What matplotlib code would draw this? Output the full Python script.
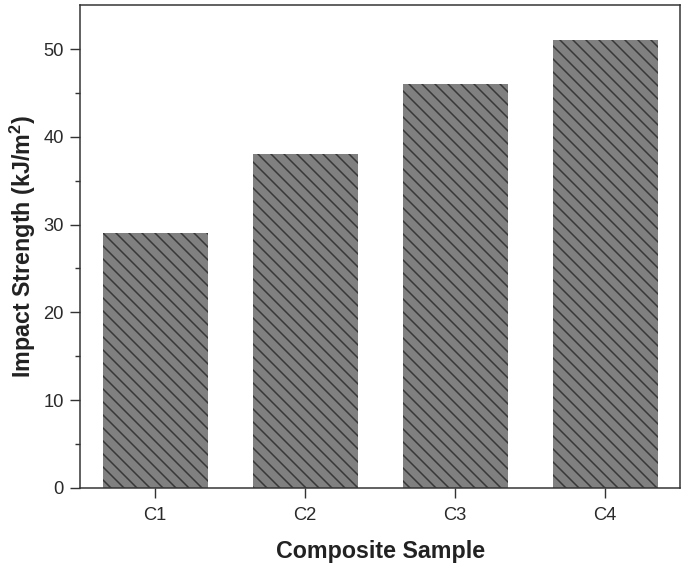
import numpy as np
import matplotlib.pyplot as plt

plt.rcParams['font.family'] = ['Liberation Sans', 'DejaVu Sans']
plt.rcParams['mathtext.fontset'] = 'custom'
plt.rcParams['mathtext.rm'] = 'Liberation Sans'
plt.rcParams['mathtext.bf'] = 'Liberation Sans:bold'
plt.rcParams['hatch.linewidth'] = 1.4

samples = ['C1', 'C2', 'C3', 'C4']
impact_strength = [29, 38, 46, 51]

dpi = 78
fig = plt.figure(figsize=(685 / dpi, 568 / dpi), dpi=dpi)
ax = fig.add_axes([0.117, 0.141, 0.876, 0.850])

x = np.arange(len(samples))
ax.bar(x, impact_strength, width=0.7, color='#808080', edgecolor='none', zorder=2)
ax.bar(x, impact_strength, width=0.7, fill=False, edgecolor='#383838',
       hatch='\\\\', linewidth=0, zorder=3)

ax.set_xlim(-0.5, 3.5)
ax.set_ylim(0, 55)
ax.set_xticks(x)
ax.set_xticklabels(samples)
ax.set_yticks(np.arange(0, 51, 10))
ax.set_yticks(np.arange(5, 55, 10), minor=True)

for s in ax.spines.values():
    s.set_color('#333333')
    s.set_linewidth(1.4)

ax.tick_params(axis='both', which='major', length=9, width=1.3, color='#333333',
               labelsize=17, labelcolor='#2a2a2a')
ax.tick_params(axis='y', which='minor', length=4.5, width=1.3, color='#333333')
ax.tick_params(axis='y', pad=6)
ax.tick_params(axis='x', pad=9)

ax.set_xlabel('Composite Sample', fontsize=21.5, fontweight='bold', color='#222222', labelpad=14)
ax.set_ylabel(r'Impact Strength (kJ/m$\mathbf{^2}$)', fontsize=21.5, fontweight='bold',
              color='#222222', labelpad=5)

fig.savefig('out.png', dpi=dpi)
